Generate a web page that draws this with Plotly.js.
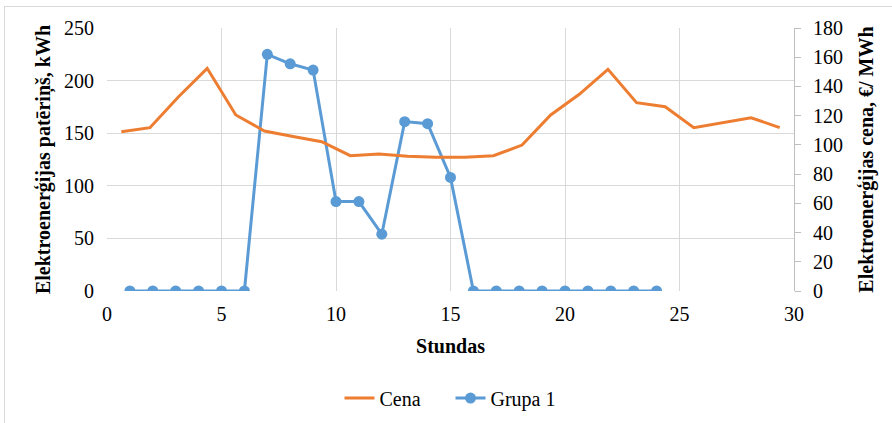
<!DOCTYPE html>
<html>
<head>
<meta charset="utf-8">
<script src="https://cdn.plot.ly/plotly-3.0.1.min.js"></script>
<style>
html,body{margin:0;padding:0;background:#fff;}
#wrap{position:relative;width:892px;height:423px;overflow:hidden;}
#border{position:absolute;left:4px;top:6px;width:900px;height:430px;border:1px solid #d9d9d9;box-sizing:border-box;}
#chart{position:absolute;left:0;top:0;width:892px;height:423px;}
</style>
</head>
<body>
<div id="wrap"><div id="border"></div><div id="chart"></div></div>
<script>
// Hours for consumption series (primary x axis, 0-30)
const hours = [1,2,3,4,5,6,7,8,9,10,11,12,13,14,15,16,17,18,19,20,21,22,23,24];
// Grupa 1 consumption, kWh
const grupa1 = [0,0,0,0,0,0,225,216,210,85,85,54,161,159,108,0,0,0,0,0,0,0,0,0];
// Price categories (secondary category axis)
const priceHours = [1,2,3,4,5,6,7,8,9,10,11,12,13,14,15,16,17,18,19,20,21,22,23,24];
// Cena, EUR/MWh
const cena = [109,111.8,133,152.4,120.5,109.5,105.7,102.2,92.6,93.8,92.2,91.5,91.5,92.6,99.9,120.5,134.6,151.7,128.9,126.1,111.8,115.2,118.6,111.8];

const font = 'Times New Roman, Liberation Serif, DejaVu Serif, serif';
const grid = '#d9d9d9';

const traces = [
  {
    x: priceHours, y: cena, name: 'Cena', type: 'scatter', mode: 'lines',
    xaxis: 'x2', yaxis: 'y2',
    line: {color: '#ED7D31', width: 3}
  },
  {
    x: hours, y: grupa1, name: 'Grupa 1', type: 'scatter', mode: 'lines+markers',
    xaxis: 'x', yaxis: 'y',
    line: {color: '#5B9BD5', width: 3},
    marker: {color: '#5B9BD5', size: 11}
  }
];

const layout = {
  width: 892, height: 423,
  margin: {l: 107, r: 98, t: 28, b: 132, autoexpand: false},
  paper_bgcolor: 'rgba(0,0,0,0)',
  plot_bgcolor: 'rgba(0,0,0,0)',
  font: {family: font, size: 20, color: '#000'},
  showlegend: true,
  legend: {
    orientation: 'h', x: 0.5, xanchor: 'center', y: -0.407, yanchor: 'middle',
    itemwidth: 30, entrywidth: 66,
    font: {family: font, size: 20, color: '#000'}, traceorder: 'normal'
  },
  xaxis: {
    range: [0, 30], dtick: 5, tick0: 0,
    showgrid: true, gridcolor: grid, gridwidth: 1,
    zeroline: false, showline: false, ticks: '',
    ticklabelstandoff: 9,
    tickfont: {family: font, size: 20, color: '#000'},
    title: {text: '<b>Stundas</b>', font: {family: font, size: 20, color: '#000'}, standoff: 14}
  },
  xaxis2: {
    range: [0.5, 24.5], overlaying: 'x', anchor: 'y2', visible: false
  },
  yaxis: {
    range: [0, 250], dtick: 50, tick0: 0,
    showgrid: true, gridcolor: grid, gridwidth: 1,
    zeroline: false, showline: false, ticks: '',
    ticklabelstandoff: 12,
    tickfont: {family: font, size: 20, color: '#000'},
    title: {text: '<b>Elektroenerģijas patēriņš, kWh</b>', font: {family: font, size: 20, color: '#000'}, standoff: 8}
  },
  yaxis2: {
    range: [0, 180], dtick: 20, tick0: 0, overlaying: 'y', side: 'right', anchor: 'x',
    showgrid: false, zeroline: false,
    showline: true, linecolor: '#bfbfbf', linewidth: 1,
    ticks: 'outside', ticklen: 6, tickcolor: '#bfbfbf',
    ticklabelstandoff: 8,
    tickfont: {family: font, size: 20, color: '#000'},
    title: {text: '<b>Elektroenerģijas cena, €/ MWh</b>', font: {family: font, size: 20, color: '#000'}, standoff: 16}
  }
};

Plotly.newPlot('chart', traces, layout, {displayModeBar: false, staticPlot: true});
</script>
</body>
</html>
